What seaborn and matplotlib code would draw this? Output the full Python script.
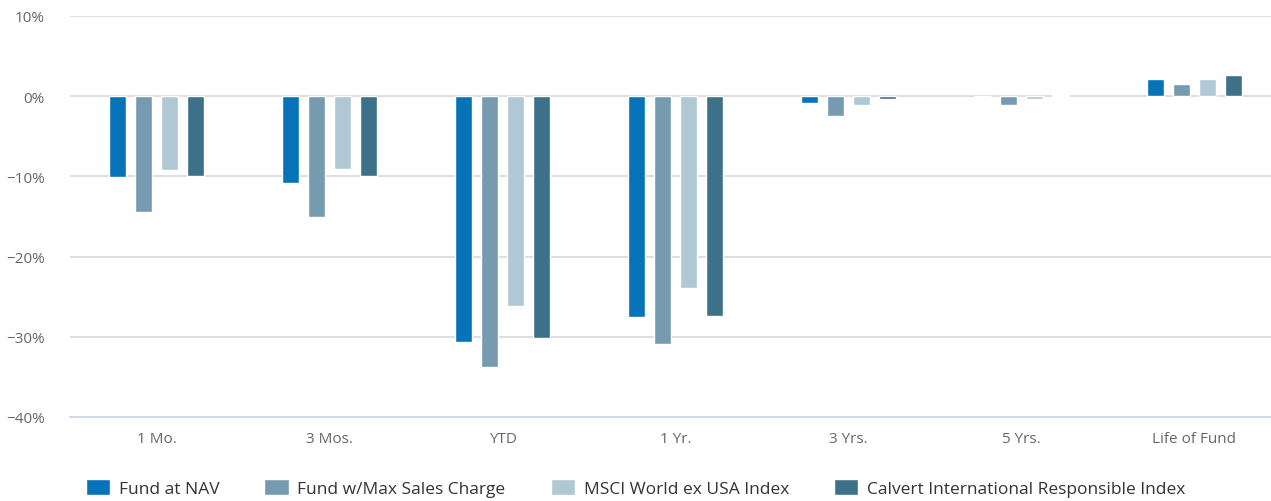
import pandas as pd
import numpy as np
import matplotlib.pyplot as plt
import seaborn as sns
from matplotlib.ticker import FixedLocator, FuncFormatter

sns.set_theme(style="white")
plt.rcParams['font.family'] = ['Open Sans', 'DejaVu Sans']

# dati (%)
periodi = ['1 Mo.', '3 Mos.', 'YTD', '1 Yr.', '3 Yrs.', '5 Yrs.', 'Life of Fund']
serie = ['Fund at NAV', 'Fund w/Max Sales Charge', 'MSCI World ex USA Index',
         'Calvert International Responsible Index']
fund_nav = [-10.1, -10.8, -30.6, -27.5, -0.9, 0.0, 2.1]
fund_max = [-14.4, -15.0, -33.8, -30.9, -2.5, -1.1, 1.5]
msci = [-9.2, -9.1, -26.1, -23.9, -1.1, -0.3, 2.1]
calvert = [-10.0, -9.9, -30.1, -27.4, -0.3, 0.2, 2.6]
colori = ['#0673b9', '#769bb0', '#b0c8d4', '#3d7189']

df = pd.DataFrame({
    'periodo': periodi * 4,
    'serie': np.repeat(serie, len(periodi)),
    'valore': fund_nav + fund_max + msci + calvert,
})

fig = plt.figure(figsize=(12.71, 5.02), dpi=100)
ax = fig.add_axes([70 / 1271, 1 - 418 / 502, 1211 / 1271, 401 / 502])

sns.barplot(data=df, x='periodo', y='valore', hue='serie', order=periodi,
            hue_order=serie, palette=colori, saturation=1, width=0.6, gap=0.36,
            edgecolor='white', linewidth=1, ax=ax, legend=True, zorder=3)

ax.set_ylim(-40, 10)
ax.set_xlim(-0.5, 6.5)
ax.set_yticks([10, 0, -10, -20, -30, -40])
ax.yaxis.set_major_formatter(FuncFormatter(lambda v, p: f"{int(v)}%".replace('-', '\u2212')))
ax.grid(axis='y', color='#d8d8d8', linewidth=1.2, zorder=0)
ax.set_axisbelow(True)
for s in ['top', 'right', 'left']:
    ax.spines[s].set_visible(False)
ax.spines['bottom'].set_color('#ccd6eb')
ax.spines['bottom'].set_linewidth(1.2)

ax.tick_params(axis='y', length=0, labelsize=11, labelcolor='#666666', pad=18)
ax.tick_params(axis='x', which='major', length=0, labelsize=11, labelcolor='#666666', pad=10)
ax.xaxis.set_minor_locator(FixedLocator(np.arange(-0.5, 7, 1)))
ax.tick_params(axis='x', which='minor', length=10, width=1.2, color='#ccd6eb', direction='out')
ax.set_xlabel('')
ax.set_ylabel('')

handles, labels = ax.get_legend_handles_labels()
ax.get_legend().remove()
fig.legend(handles, labels, loc='center', bbox_to_anchor=(0.5, 0.026), ncol=4,
           frameon=False, fontsize=12.5, handlelength=1.4, handleheight=1.1,
           columnspacing=2.6, handletextpad=0.5, labelcolor='#333333',
           borderpad=0.2)

plt.savefig('out.png', dpi=100)
